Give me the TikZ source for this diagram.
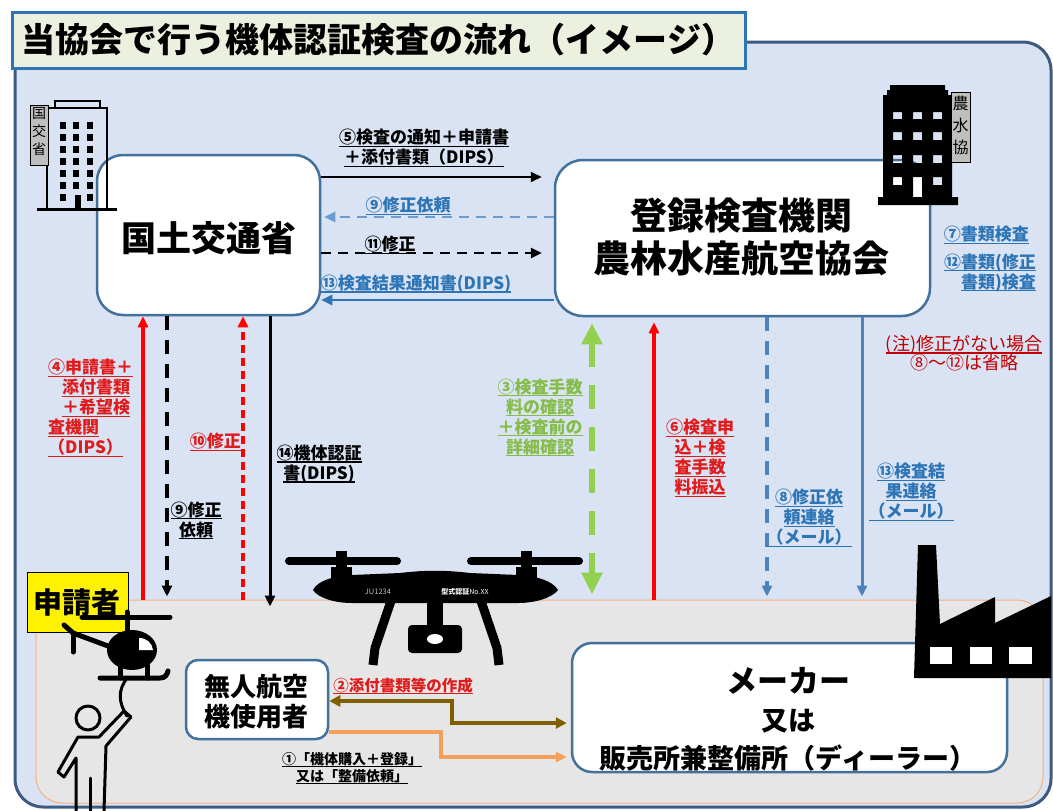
\documentclass[tikz,border=0pt]{standalone}
\usepackage{fontspec}
\setmainfont{Noto Sans CJK JP}
\usetikzlibrary{arrows.meta}

\definecolor{framefill}{HTML}{DAE3F3}
\definecolor{frameline}{HTML}{3D5A80}
\definecolor{titlefill}{HTML}{EBF1DE}
\definecolor{titleline}{HTML}{2E75B6}
\definecolor{boxline}{HTML}{41719C}
\definecolor{regionfill}{HTML}{E7E6E6}
\definecolor{regionline}{HTML}{F4B183}
\definecolor{redA}{HTML}{FF0000}
\definecolor{redtxt}{HTML}{E01B1B}
\definecolor{notered}{HTML}{C00000}
\definecolor{blueA}{HTML}{2E75B6}
\definecolor{blueB}{HTML}{4F81BD}
\definecolor{blueC}{HTML}{6A9BD1}
\definecolor{greenA}{HTML}{92D050}
\definecolor{greentxt}{HTML}{86BC4A}
\definecolor{brownA}{HTML}{7F6000}
\definecolor{orangeA}{HTML}{F4A05A}
\definecolor{signgray}{HTML}{BFBFBF}

% underline at a fixed depth, whatever the glyphs
\newcommand\ulx[1]{\leavevmode\setbox0\hbox{#1}\rlap{\rule[-0.18em]{\wd0}{0.07em}}\box0}

\tikzset{
  lbl/.style={font=\fontsize{17}{20}\selectfont\bfseries, align=center, inner sep=0pt},
  bigbox/.style={draw=boxline, line width=2.5pt, fill=white, rounded corners=26pt, inner sep=0pt},
  tipa/.style={-{Triangle[length=11pt,width=10pt]}},
  signbox/.style={fill=signgray, draw=black, line width=0.6pt},
  signtxt/.style={font=\fontsize{14}{14}\selectfont, inner sep=0pt},
}

\begin{document}
\begin{tikzpicture}[x=1pt,y=-1pt]
\useasboundingbox (0,0) rectangle (1053,811);
\fill[white] (0,0) rectangle (1053,811);

% outer frame
\draw[fill=framefill, draw=frameline, line width=3pt, rounded corners=28pt] (15,42) rectangle (1051,807);

% title
\node[draw=titleline, fill=titlefill, line width=3pt, minimum width=733pt, minimum height=56pt, inner sep=0pt,
      font=\fontsize{34}{34}\selectfont\bfseries] (title) at (378.5,40) {当協会で行う機体認証検査の流れ（イメージ）};

% applicant region
\node[draw=regionline, fill=regionfill, line width=1pt, rounded corners=26pt,
      minimum width=1007pt, minimum height=203pt, inner sep=0pt] (appl) at (539.5,701.5) {};

% main boxes
\node[bigbox, minimum width=223pt, minimum height=160pt] (kokko) at (208.5,235) {};
\node[font=\fontsize{35}{35}\selectfont\bfseries, inner sep=0pt] (kokkotext) at (209,238) {国土交通省};

\node[bigbox, rounded corners=28pt, minimum width=375pt, minimum height=156pt] (touroku) at (742.5,238) {};
\node[font=\fontsize{37}{43}\selectfont\bfseries, align=center, inner sep=0pt] (tourokutext) at (741,237) {登録検査機関\\農林水産航空協会};

\node[bigbox, rounded corners=12pt, minimum width=142pt, minimum height=79pt] (user) at (257,699.5) {};
\node[font=\fontsize{26}{30}\selectfont\bfseries, align=center, inner sep=0pt] (usertext) at (256,702) {無人航空\\機使用者};

\node[bigbox, rounded corners=20pt, minimum width=435pt, minimum height=129pt] (maker) at (789.5,707.5) {};
\node[font=\fontsize{27}{38}\selectfont\bfseries, align=center, inner sep=0pt] (makertext) at (788,719)
  {{\fontsize{31}{38}\selectfont メーカー}\\又は\\販売所兼整備所（ディーラー）};

% ministry building (outline)
\begin{scope}[line width=2.5pt]
  \draw (47,208) -- (47,108) -- (107,108) -- (107,208);
  \draw (55,108) -- (55,101) -- (100,101) -- (100,108);
  \draw[line width=3pt] (37,209) -- (117,209);
  \foreach \cx in {60,73,87}
    \foreach \ry in {122,134,146,158,170,182}
      \fill (\cx,\ry) rectangle ++(6,7);
  \fill (60,194) rectangle ++(6,7);
  \fill (87,194) rectangle ++(6,7);
  \fill (75,195) rectangle (81,208);
\end{scope}
\draw[signbox] (30,105) rectangle (48,165);
\node[signtxt] (sa1) at (39,113) {国};
\node[signtxt] (sa2) at (39,131) {交};
\node[signtxt] (sa3) at (39,149) {省};

% association building (solid, windows cut out)
\fill[black, even odd rule]
  (890,85) -- (945,85) -- (945,90) -- (948,90) -- (948,95) -- (952,95) -- (952,197) -- (958,197) -- (958,205)
  -- (878,205) -- (878,197) -- (883,197) -- (883,95) -- (887,95) -- (887,90) -- (890,90) -- cycle
  (893,112) rectangle (902,119) (913,112) rectangle (922,119) (933,112) rectangle (942,119)
  (893,132) rectangle (902,140) (913,132) rectangle (922,140) (933,132) rectangle (942,140)
  (893,155) rectangle (902,163) (913,155) rectangle (922,163) (933,155) rectangle (942,163)
  (893,177) rectangle (902,185) (913,177) rectangle (922,197) (933,177) rectangle (942,185);
\draw[signbox] (951,92) rectangle (970,162);
\node[signtxt, font=\fontsize{16}{16}\selectfont] (sb1) at (960.5,103) {農};
\node[signtxt, font=\fontsize{16}{16}\selectfont] (sb2) at (960.5,125) {水};
\node[signtxt, font=\fontsize{16}{16}\selectfont] (sb3) at (960.5,147) {協};

% ---- horizontal exchanges between the ministry and the association
\draw[black, line width=2pt, tipa, shorten >=12pt] (kokko.east |- 0,177) -- (touroku.west |- 0,177);
\node[lbl] (l5) at (424,148) {\ulx{⑤検査の通知＋申請書}\\\ulx{＋添付書類（DIPS）}};

\draw[blueC, line width=2.5pt, dash pattern=on 10pt off 7pt, tipa, shorten >=3pt] (touroku.west |- 0,217) -- (kokko.east |- 0,217);
\node[lbl, text=blueA] (l9a) at (408,206) {\ulx{⑨修正依頼}};

\draw[black, line width=2.5pt, dash pattern=on 10pt off 7pt, tipa, shorten >=12pt] (kokko.east |- 0,253) -- (touroku.west |- 0,253);
\node[lbl] (l11) at (390,245) {\ulx{⑪修正}};

\draw[blueA, line width=2.5pt, tipa] (touroku.west |- 0,300) -- (kokko.east |- 0,300);
\node[lbl, text=blueA] (l13a) at (416,284) {\ulx{⑬検査結果通知書(DIPS)}};

% ---- vertical exchanges with the applicant
\coordinate (v4) at (143,0);
\coordinate (v9) at (167,0);
\coordinate (v10) at (243,0);
\coordinate (v14) at (270,0);
\coordinate (v3) at (592,0);
\coordinate (v6) at (654,0);
\coordinate (v8) at (767,0);
\coordinate (v13) at (862,0);

\draw[redA, line width=4pt, tipa] (v4 |- appl.north) -- (v4 |- kokko.south);
\draw[black, line width=4pt, dash pattern=on 14pt off 10pt, tipa, shorten >=3pt] (v9 |- kokko.south) -- (v9 |- appl.north);
\draw[redA, line width=3.5pt, dash pattern=on 8pt off 5pt, tipa] (v10 |- appl.north) -- (v10 |- kokko.south);
\draw[black, line width=3pt, tipa, shorten >=-7pt] (v14 |- kokko.south) -- (v14 |- appl.north);

\draw[greenA, line width=6pt, dash pattern=on 24pt off 18pt,
      {Triangle[length=21pt,width=20pt]}-{Triangle[length=22pt,width=20pt]}, shorten <=6pt, shorten >=5pt]
      (v3 |- touroku.south) -- (v3 |- appl.north);
\draw[redA, line width=3.5pt, tipa, shorten >=5pt] (v6 |- appl.north) -- (v6 |- touroku.south);
\draw[blueB, line width=3.5pt, dash pattern=on 14pt off 10pt, tipa, shorten >=3pt] (v8 |- touroku.south) -- (v8 |- appl.north);
\draw[blueB, line width=3pt, tipa, shorten >=3pt] (v13 |- touroku.south) -- (v13 |- appl.north);

\node[lbl, text=redtxt, align=left, anchor=west] (l4) at (48,408)
  {\ulx{④申請書＋}\\\hspace*{14pt}\ulx{添付書類}\\\hspace*{14pt}\ulx{＋希望検}\\\ulx{査機関}\\\ulx{（DIPS）}};
\node[lbl, text=redtxt, anchor=east] (l10) at (241,442) {\ulx{⑩修正}};
\node[lbl] (l14) at (319,464) {\ulx{⑭機体認証}\\\ulx{書(DIPS)}};
\node[lbl] (l9b) at (196,520.5) {\ulx{⑨修正}\\\ulx{依頼}};
\node[lbl, text=greentxt] (l3) at (540,417.5) {\ulx{③検査手数}\\\ulx{料の確認}\\\ulx{＋検査前の}\\\ulx{詳細確認}};
\node[lbl, text=redtxt] (l6) at (700,458) {\ulx{⑥検査申}\\\ulx{込＋検}\\\ulx{査手数}\\\ulx{料振込}};
\node[lbl, text=blueA] (l8) at (809,518) {\ulx{⑧修正依}\\\ulx{頼連絡}\\\ulx{（メール）}};
\node[lbl, text=blueA] (l13b) at (911,492) {\ulx{⑬検査結}\\\ulx{果連絡}\\\ulx{（メール）}};

% ---- notes beside the association
\node[lbl, text=blueA, anchor=east] (l7) at (1029,235) {\ulx{⑦書類検査}};
\node[lbl, text=blueA, align=right, anchor=east] (l12) at (1036,272.5) {\ulx{⑫書類(修正}\\\ulx{書類)検査}};
\node[lbl, text=notered, font=\fontsize{18}{19}\selectfont] (note) at (964,353) {\ulx{(注)修正がない場合}\\⑧〜⑫は省略};

% ---- between the user and the maker
\draw[brownA, line width=4pt, {Triangle[length=11pt,width=11pt]}-{Triangle[length=11pt,width=11pt]}, shorten >=4pt]
  (user.east |- 0,701) -- (452,701) -- (452,723) -- (maker.west |- 0,723);
\draw[orangeA, line width=4pt, tipa, shorten >=4pt]
  (user.east |- 0,732) -- (441,732) -- (441,757) -- (maker.west |- 0,757);
\node[lbl, text=redtxt, font=\fontsize{15.5}{18}\selectfont\bfseries] (l2) at (403,686) {\ulx{②添付書類等の作成}};
\node[lbl, font=\fontsize{14}{17}\selectfont\bfseries] (l1) at (352,768.5) {\ulx{①「機体購入＋登録」}\\\ulx{又は「整備依頼」}};

% ---- drone
\begin{scope}[black]
  \draw[line width=8pt, line cap=round] (289,561) -- (397,561);
  \draw[line width=8pt, line cap=round] (471,561) -- (579,561);
  \fill (336,551) rectangle (347,575);
  \fill (331,567) rectangle (352,579);
  \fill (521,551) rectangle (532,575);
  \fill (516,567) rectangle (537,579);
  \fill (313,590) .. controls (318,580) and (335,576) .. (352,575) -- (400,573)
        .. controls (425,570) and (445,570) .. (470,573) -- (518,575)
        .. controls (535,576) and (552,580) .. (558,590)
        .. controls (552,598) and (535,603) .. (518,603) -- (352,603)
        .. controls (335,603) and (318,598) .. (313,590) -- cycle;
  \draw[line width=9pt] (392,598) -- (375,648) -- (373,665);
  \draw[line width=9pt] (480,598) -- (497,648) -- (499,665);
  \fill (427,600) rectangle (443,627);
  \fill[rounded corners=4pt] (408,625) rectangle (462,653);
  \fill[white] (435,639) ellipse [x radius=8pt, y radius=5pt];
\end{scope}
\node[font=\fontsize{7.5}{8}\selectfont, text=black!25, inner sep=0pt] (dmark) at (378,592) {JU1234};
\node[font=\fontsize{7}{8}\selectfont, text=white, inner sep=0pt] (dcert) at (465,592) {\textbf{型式認証}No.XX};

% ---- factory
\fill[black] (914,678) -- (918,545) -- (936,545) -- (940,624) -- (995,597) -- (995,623)
  -- (1051,596) -- (1051,678) -- cycle;
\fill[white] (930,647) rectangle (952,664);
\fill[white] (970,647) rectangle (992,664);
\fill[white] (1009,647) rectangle (1032,664);

% ---- applicant tag
\node[draw=black, fill=yellow, line width=0.8pt, minimum width=101pt, minimum height=60pt, inner sep=0pt,
      font=\fontsize{29}{29}\selectfont\bfseries] (applicant) at (77.5,602) {申請者};

% ---- helicopter
\begin{scope}[black, line width=5pt, line cap=round]
  \draw (82,617) -- (170,617);
  \draw (127,612) -- (127,632);
  \fill (132,650) ellipse [x radius=25pt, y radius=20pt];
  \fill[white] (139,638) .. controls (147,638) and (152,643) .. (153,650) -- (139,650) -- cycle;
  \draw (108,646) -- (73,633) -- (64,625);
  \draw (73,633) -- (73,652);
  \draw (100,678) -- (160,678) .. controls (165,678) and (167,675) .. (168,671);
  \draw (120,665) -- (120,678);
  \draw (147,665) -- (147,678);
  \draw[line width=3pt] (127,678) .. controls (118,690) and (118,702) .. (127,716);
\end{scope}

% ---- person holding the string
\begin{scope}[black, line width=3pt, line join=round, line cap=round]
  \draw (88,718) circle (12pt);
  \draw (76,811) -- (76,758) -- (64,777) -- (58,772) -- (78,737) -- (99,737) -- (124,711)
        -- (131,717) -- (106,746) -- (104,811);
  \draw (90,778) -- (90,811);
\end{scope}

\end{tikzpicture}
\end{document}
